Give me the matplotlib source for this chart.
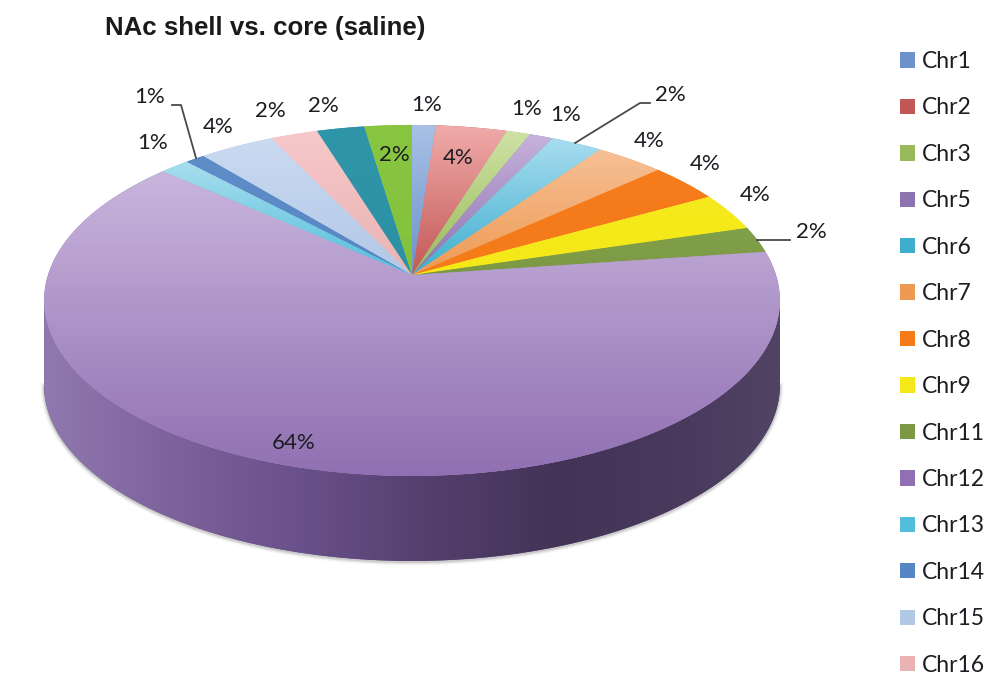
import numpy as np
import matplotlib
matplotlib.use("Agg")
import matplotlib.pyplot as plt
from matplotlib.colors import LinearSegmentedColormap
from matplotlib.patches import Polygon

title = "NAc shell vs. core (saline)"
# legend names: the reference's legend is cut off after Chr16, two slices have no visible name
names = ["Chr1", "Chr2", "Chr3", "Chr5", "Chr6", "Chr7", "Chr8", "Chr9", "Chr11",
         "Chr12", "Chr13", "Chr14", "Chr15", "Chr16", None, None]
# slice shares, clockwise from 12 o'clock
shares = [1.2, 3.6, 1.2, 1.2, 2.6, 3.5, 3.6, 3.5, 2.4, 63.7, 1.5, 1.0, 3.8, 2.4, 2.4, 2.4]
labels = ["1%", "4%", "1%", "1%", "2%", "4%", "4%", "4%", "2%", "64%", "1%", "1%", "4%", "2%", "2%", "2%"]
top_colors = ["#A9C1E6", "#F0ABAA", "#CFE2A4", "#C6B2DC", "#A8DDF0", "#F6C096", "#F67C1C", "#F6EA1C",
              "#82A04A", "#C9B5DD", "#A8DEEE", "#5F8DC8", "#CADAF1", "#F6C8CA", "#2F96AA", "#88C642"]
bot_colors = ["#6C92CB", "#C25856", "#98BA5A", "#8D73AF", "#3EAECD", "#EF9A52", "#F57A18", "#F5E818",
              "#7C9844", "#9070B2", "#53BEDB", "#5786C4", "#B2C8E7", "#E9B3B4", "#2D90A4", "#84C23E"]
label_pos = [(427, 105), (458, 158), (527, 109), (566, 115), (670, 95), (649, 141), (705, 164), (755, 195),
             (811, 232), (294, 443), (153, 143), (150, 97), (218, 127), (270, 111), (323, 106), (394, 155)]
leaders = [[(575, 143), (640, 103), (650, 103)],
           [(757, 240), (790, 240)],
           [(196, 158), (181, 105), (172, 105)]]

CX, CY, A, B, K, DEPTH = 412.0, 275.0, 364.0, 171.8, 0.145, 85.0


def project(theta):
    u, v = np.sin(theta), np.cos(theta)
    w = 1 + K * v
    return CX + A * u / w, CY - B * v / w


def gradient_fill(ax, poly, stops, vertical=True, zorder=3):
    cmap = LinearSegmentedColormap.from_list("g", stops)
    x0, y0 = poly.min(axis=0)
    x1, y1 = poly.max(axis=0)
    g = np.linspace(0, 1, 256)
    data = g[:, None] if vertical else g[None, :]
    im = ax.imshow(data, cmap=cmap, extent=(x0, x1, y1, y0), origin="upper",
                   aspect="auto", interpolation="bilinear", zorder=zorder)
    im.set_clip_path(Polygon(poly, closed=True, transform=ax.transData))


fig = plt.figure(figsize=(9.91, 6.81), dpi=100, facecolor="white")
ax = fig.add_axes([0, 0, 1, 1])
ax.set_axis_off()

edges = np.deg2rad(np.concatenate([[0], np.cumsum(shares)]) / sum(shares) * 360)

# side wall of the disc: the visible front of the rim, offset downward
widest = np.arccos(-K)
t = np.linspace(widest, 2 * np.pi - widest, 300)
xs, ys = project(t)
wall = np.vstack([np.column_stack([xs, ys]), np.column_stack([xs, ys + DEPTH])[::-1]])
for lw, alpha in [(5, 0.08), (3, 0.15), (1.5, 0.2)]:
    ax.plot(xs, ys + DEPTH + 1, color="#777777", lw=lw, alpha=alpha, zorder=1)
wall_stops = [(0.0, "#9079AF"), (0.2, "#7A5F99"), (0.35, "#69508A"), (0.51, "#56406F"),
              (0.7, "#433356"), (0.88, "#4A3B5E"), (1.0, "#504363")]
ax.add_patch(Polygon(wall, closed=True, fc="#5A4573", ec="none", zorder=2))
gradient_fill(ax, wall, wall_stops, vertical=False)

# top face
handles = []
for i, share in enumerate(shares):
    t = np.linspace(edges[i], edges[i + 1], max(3, int(share * 8)))
    xs, ys = project(t)
    poly = np.vstack([[CX, CY], np.column_stack([xs, ys])])
    ax.add_patch(Polygon(poly, closed=True, fc=bot_colors[i], ec="none", zorder=4, label=names[i]))
    gradient_fill(ax, poly, [top_colors[i], bot_colors[i]], zorder=5)
    if names[i]:
        handles.append(Polygon([(0, 0)], closed=True, fc=bot_colors[i], ec="none", label=names[i]))

# leader lines
for pts in leaders:
    p = np.array(pts)
    ax.plot(p[:, 0], p[:, 1], color="#4a4a4a", lw=1.3, zorder=6, solid_joinstyle="round")

# data labels
for (x, y), s in zip(label_pos, labels):
    ax.text(x, y, s, ha="center", va="center", family="Lato", fontsize=16, color="#1c1c22", zorder=7)

ax.text(105, 28, title, ha="left", va="center", family="Liberation Sans", fontweight="bold",
        fontsize=18.6, color="#1a1a1a", zorder=7)

ax.set_xlim(0, 991)
ax.set_ylim(681, 0)

ax.legend(handles=handles, loc="upper left", bbox_to_anchor=(900, 51), bbox_transform=ax.transData,
          frameon=False, borderpad=0, borderaxespad=0, prop={"family": "Lato", "size": 16.5},
          handlelength=0.655, handleheight=0.655, handletextpad=0.28, labelspacing=1.11,
          labelcolor="#1c1c22")

fig.savefig("out.png", dpi=100, facecolor="white")
